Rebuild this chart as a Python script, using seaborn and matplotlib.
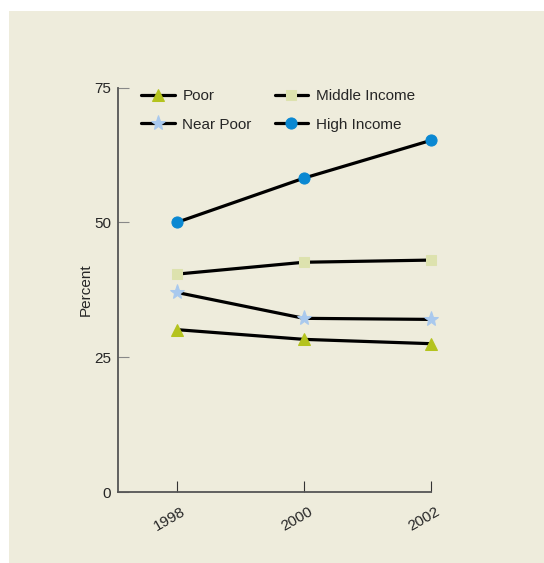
import matplotlib
matplotlib.use("Agg")
import matplotlib.pyplot as plt
import matplotlib.transforms as mtransforms
import seaborn as sns
import pandas as pd
from matplotlib.patches import Rectangle

# --- data ---
years = [1998, 2000, 2002]
groups = ["Poor", "Near Poor", "Middle Income", "High Income"]
poor = [30.1, 28.3, 27.5]
near_poor = [37.0, 32.2, 32.0]
middle_income = [40.4, 42.6, 43.0]
high_income = [50.0, 58.2, 65.2]
y_ticks = [0, 25, 50, 75]

markers = ["^", "*", "s", "o"]
marker_colors = ["#b4c31e", "#a9c9ee", "#dde2ae", "#0a88d2"]
marker_sizes = [9, 11, 7, 8]

df = pd.DataFrame({
    "year": years * 4,
    "pct": poor + near_poor + middle_income + high_income,
    "group": [g for g in groups for _ in years],
})

sns.set_style("ticks")
plt.rcParams["font.family"] = ["Liberation Sans", "DejaVu Sans"]

bg = "#eeecdc"
fig = plt.figure(figsize=(5.44, 5.63), dpi=100)
fig.patch.set_facecolor("white")
fig.add_artist(Rectangle((9 / 544, 0), 1, 1 - 11 / 563, transform=fig.transFigure,
                         facecolor=bg, edgecolor="none", zorder=-10))

ax = fig.add_axes([118 / 544, 1 - 492 / 563, (431 - 118) / 544, (492 - 87.5) / 563])
ax.set_facecolor(bg)

for g, m, c, s in zip(groups, markers, marker_colors, marker_sizes):
    sub = df[df["group"] == g]
    sns.lineplot(data=sub, x="year", y="pct", ax=ax, color="black", linewidth=2.3,
                 marker=m, markersize=s, markerfacecolor=c, markeredgecolor=c,
                 label=g, clip_on=False)

ax.set_xlim(1998 - 59 / 63.5, 2002)
ax.set_ylim(0, 75)
ax.set_yticks(y_ticks)
ax.set_xticks(years)
ax.set_xticklabels([str(y) for y in years], rotation=30, ha="right",
                   rotation_mode="anchor")
ax.tick_params(axis="y", direction="in", length=8, color="#888888", labelsize=11, pad=5)
ax.tick_params(axis="x", direction="in", length=8, color="#333333", labelsize=11, pad=9)
# nudge the rotated year labels a little to the right
shift = mtransforms.ScaledTranslation(4 / 100, 0, fig.dpi_scale_trans)
for lbl in ax.get_xticklabels():
    lbl.set_transform(lbl.get_transform() + shift)
ax.set_xlabel("")
ax.set_ylabel("Percent", fontsize=11, labelpad=1)

sns.despine(ax=ax, top=True, right=True)
ax.spines["left"].set_color("#555555")
ax.spines["bottom"].set_color("#555555")
ax.spines["left"].set_linewidth(1.3)
ax.spines["bottom"].set_linewidth(1.3)

ax.legend(ncol=2, frameon=False, loc="upper left", bbox_to_anchor=(0.03, 1.03),
          fontsize=11, handlelength=2.2, columnspacing=1.5, labelspacing=0.95,
          handletextpad=0.5)

fig.savefig("out.png", dpi=100, facecolor=fig.get_facecolor())
